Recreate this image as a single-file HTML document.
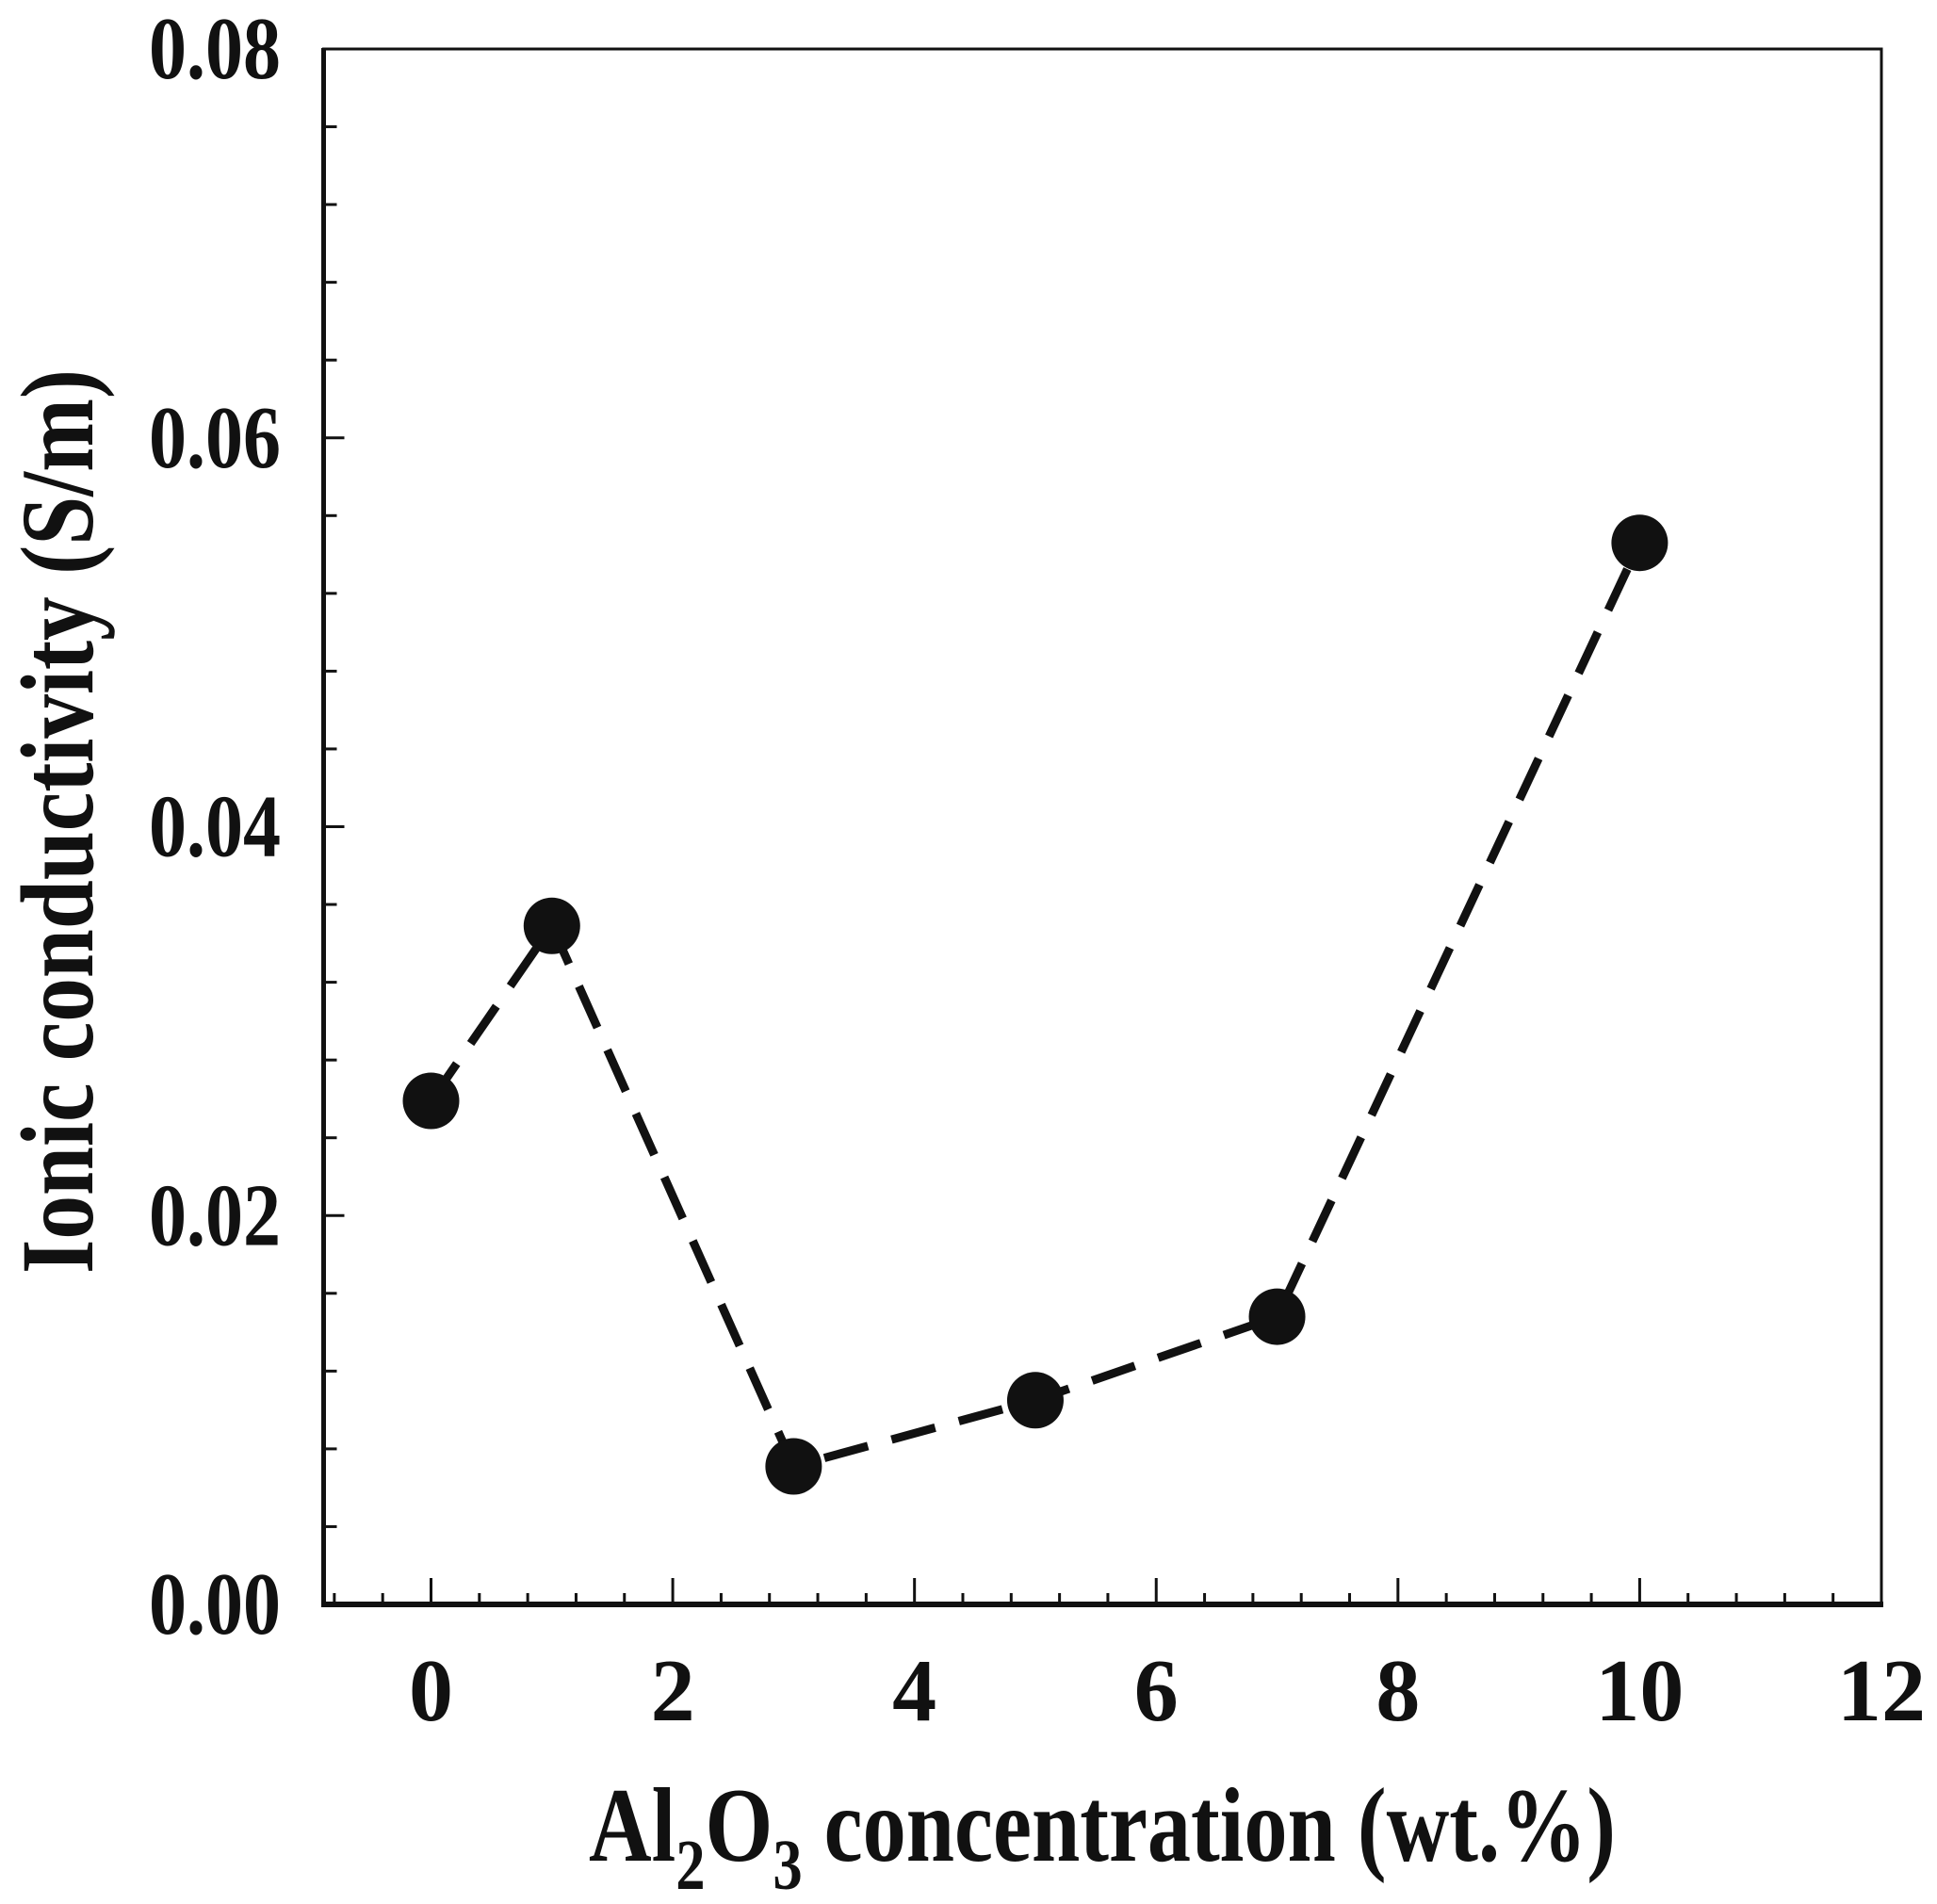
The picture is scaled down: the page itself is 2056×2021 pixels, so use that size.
<!DOCTYPE html>
<html><head><meta charset="utf-8"><style>
html,body{margin:0;padding:0;background:#fff;}
svg{display:block;}
text{font-family:"Liberation Serif",serif;font-weight:bold;fill:#111;}
</style></head><body>
<svg id="chart" width="2056" height="2021" viewBox="0 0 2056 2021" xmlns="http://www.w3.org/2000/svg">
<g id="axes"></g>
<g id="series"></g>
<text x="1170" y="1975" font-size="112" text-anchor="middle" textLength="1090" lengthAdjust="spacingAndGlyphs">Al<tspan font-size="76" dy="30">2</tspan><tspan dy="-30">O</tspan><tspan font-size="76" dy="30">3</tspan><tspan dy="-30"> concentration (wt.%)</tspan></text>
<text transform="translate(98,872) rotate(-90)" font-size="110" text-anchor="middle" textLength="960" lengthAdjust="spacingAndGlyphs">Ionic conductivity (S/m)</text>
</svg>
<script>
const xValues = [0, 1, 3, 5, 7, 10];
const yValues = [0.0259, 0.0349, 0.0071, 0.0105, 0.0148, 0.0546];
const xTickLabels = ["0", "2", "4", "6", "8", "10", "12"];
const yTickLabels = ["0.00", "0.02", "0.04", "0.06", "0.08"];

const NS = "http://www.w3.org/2000/svg";
const L = 343.5, R = 1997, T = 52, B = 1703;
const xMin = -0.88, xMax = 12, yMin = 0, yMax = 0.08;
function xs(v){ return 457.5 + (v - 0) * (1997 - 457.5) / 12; }
function ys(v){ return B - (v - yMin) / (yMax - yMin) * (B - T); }
function mk(tag, attrs, parent){
  const e = document.createElementNS(NS, tag);
  for (const k in attrs) e.setAttribute(k, attrs[k]);
  parent.appendChild(e); return e;
}
const axes = document.getElementById("axes");
const series = document.getElementById("series");

let fr = mk("rect", {x:L, y:T, width:R-L, height:B-T, fill:"none", stroke:"#111", "stroke-width":3}, axes);


let la = mk("line", {x1:L, y1:T-1, x2:L, y2:B+3, stroke:"#111", "stroke-width":5}, axes);


let ba = mk("line", {x1:L-2, y1:B, x2:R+2, y2:B, stroke:"#111", "stroke-width":6}, axes);



for (let i = -2; i <= 30; i++) {
  const v = i * 0.4;
  if (v < xMin || v > 11.95) continue;
  const major = i % 5 === 0;
  const x = xs(v);
  const t = mk("line", {x1:x, y1:B, x2:x, y2:B-(major?28:12), stroke:"#111", "stroke-width":3}, axes);
  
  
}
xTickLabels.forEach(function(lbl){
  const tx = mk("text", {x:xs(parseFloat(lbl)), y:1826, "font-size":94, "text-anchor":"middle"}, axes);
  tx.textContent = lbl;
  
  
});
for (let i = 1; i < 20; i++) {
  const v = i * 0.004;
  const major = i % 5 === 0;
  const y = ys(v);
  const t = mk("line", {x1:L, y1:y, x2:L+(major?22:14), y2:y, stroke:"#111", "stroke-width":3}, axes);
  
  
}
yTickLabels.forEach(function(lbl){
  const ty = mk("text", {x:298, y:ys(parseFloat(lbl))+31, "font-size":94, "text-anchor":"end", textLength:140, lengthAdjust:"spacingAndGlyphs"}, axes);
  ty.textContent = lbl;
  
  
});

const pts = xValues.map(function(x, i){ return xs(x) + "," + ys(yValues[i]); }).join(" ");
const pl = mk("polyline", {points:pts, fill:"none", stroke:"#111", "stroke-width":9, "stroke-dasharray":"48 26"}, series);


xValues.forEach(function(x, i){
  const c = mk("circle", {cx:xs(x), cy:ys(yValues[i]), r:30, fill:"#111"}, series);
  
  
});
</script>
</body></html>
